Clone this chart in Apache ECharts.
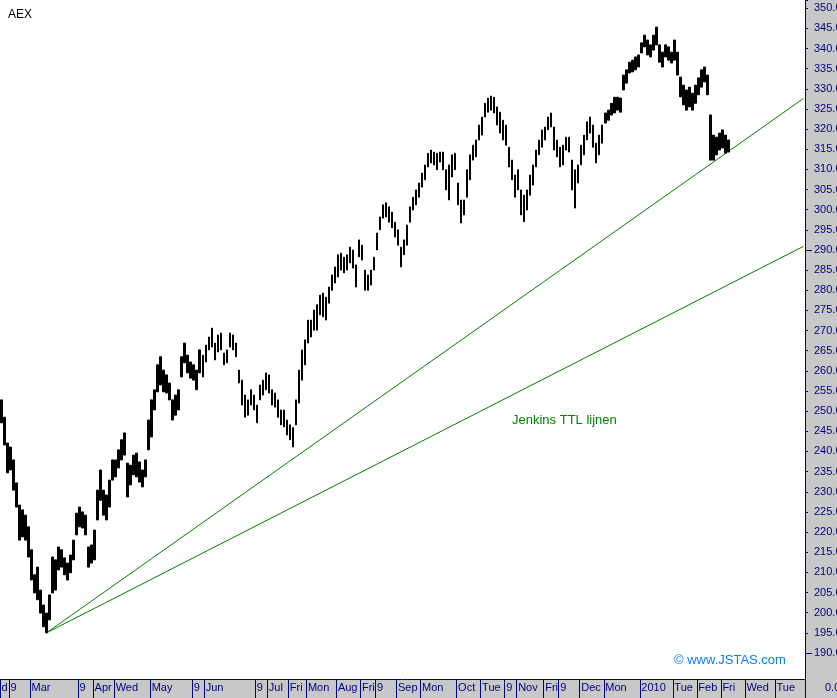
<!DOCTYPE html>
<html>
<head>
<meta charset="utf-8">
<title>AEX</title>
<script src="https://cdn.jsdelivr.net/npm/echarts@6/dist/echarts.min.js"></script>
<style>
html, body { margin: 0; padding: 0; background: #fff; }
#chart { width: 837px; height: 698px; }
</style>
</head>
<body>
<div id="chart"></div>
<script>
// koersbereik per slot (ca. 3 px per slot), gelezen uit de grafiek
const highs = [
  252.8, 248.5, 242.1, 241.1, 237.9, 232.2, 226.7, 225.5, 224.2, 221.3,
  215.6, 209.4, 211.3, 205.6, 201.9, 199.9, 204.4, 213.8, 213.1, 216.3,
  215.6, 213.6, 212.3, 214.3, 218.0, 224.7, 226.2, 225.0, 224.2, 216.3,
  216.8, 220.5, 230.4, 235.4, 230.4, 229.2, 232.9, 237.9, 237.9, 240.4,
  242.9, 244.6, 237.1, 236.6, 239.1, 239.6, 237.4, 235.4, 237.9, 247.8,
  252.8, 255.3, 261.5, 263.5, 260.2, 259.0, 257.0, 252.8, 254.0, 255.3,
  263.5, 266.9, 263.9, 262.2, 261.5, 260.2, 265.2, 263.9, 266.4, 268.4,
  270.6, 266.9, 268.9, 269.4, 264.4, 265.2, 269.4, 268.9, 266.9, 260.2,
  257.7, 254.0, 252.8, 255.3, 254.0, 251.5, 256.5, 257.7, 259.5, 259.0,
  255.3, 254.5, 252.8, 250.3, 250.3, 247.8, 246.6, 245.9, 252.8, 260.2,
  265.2, 267.7, 272.6, 272.6, 275.1, 276.4, 278.8, 279.3, 278.3, 280.8,
  283.8, 285.8, 288.8, 289.2, 288.2, 288.8, 290.7, 290.0, 286.3, 292.5,
  291.2, 285.0, 283.8, 285.0, 288.2, 294.2, 298.2, 301.2, 301.7, 300.7,
  299.4, 296.9, 295.0, 290.7, 292.5, 296.2, 300.7, 303.1, 304.9, 306.6,
  309.1, 311.1, 314.0, 314.8, 314.3, 314.0, 314.3, 314.3, 309.9, 311.1,
  313.6, 314.0, 306.6, 302.4, 302.4, 309.9, 313.6, 316.0, 317.3, 321.0,
  323.0, 326.4, 327.7, 328.2, 327.9, 325.5, 324.2, 322.2, 321.0, 315.5,
  312.3, 308.6, 309.9, 304.9, 303.6, 304.9, 308.6, 311.1, 314.8, 317.3,
  319.8, 320.5, 323.0, 324.0, 320.5, 317.3, 315.5, 316.0, 318.0, 318.0,
  312.3, 309.9, 311.1, 316.0, 318.5, 321.8, 323.0, 321.0, 316.5, 318.5,
  321.0, 324.0, 324.7, 326.4, 327.9, 327.9, 327.7, 333.4, 334.7, 336.6,
  337.1, 337.9, 338.4, 341.4, 343.3, 342.1, 340.9, 343.3, 345.3, 340.9,
  339.1, 340.9, 340.4, 339.1, 342.1, 339.1, 332.9, 330.9, 329.7, 330.4,
  328.9, 330.9, 332.7, 334.7, 335.4, 333.4, 323.5, 318.5, 318.0, 319.0,
  319.8, 318.5, 317.3
]
const lows = [
  247.1, 241.6, 234.7, 235.4, 230.4, 226.2, 218.0, 218.8, 218.0, 213.8,
  208.1, 204.9, 203.2, 199.9, 196.5, 195.0, 198.2, 204.9, 205.6, 210.6,
  211.3, 209.4, 208.1, 209.9, 213.1, 219.3, 221.3, 221.0, 219.3, 211.3,
  212.3, 213.1, 223.0, 227.9, 224.2, 223.0, 226.2, 232.9, 233.7, 235.9,
  237.9, 239.1, 228.7, 231.7, 234.2, 233.7, 232.4, 231.2, 233.7, 240.4,
  243.6, 250.3, 254.8, 256.5, 254.8, 254.5, 252.8, 247.8, 249.0, 250.3,
  258.5, 262.0, 259.5, 258.2, 257.7, 255.3, 259.5, 258.5, 262.2, 265.2,
  265.9, 262.7, 264.7, 265.2, 261.5, 262.0, 265.9, 265.2, 263.5, 257.0,
  251.5, 248.5, 249.0, 251.5, 250.3, 247.1, 252.8, 254.0, 255.3, 254.5,
  251.5, 251.0, 248.5, 246.6, 246.1, 244.1, 242.9, 241.1, 246.6, 252.0,
  257.7, 261.5, 266.9, 268.4, 270.1, 270.1, 273.9, 273.4, 272.6, 276.8,
  280.0, 281.8, 283.3, 285.0, 284.3, 285.0, 286.8, 285.5, 280.8, 288.3,
  287.5, 280.0, 280.0, 281.3, 285.0, 290.0, 295.0, 297.9, 298.2, 296.9,
  295.5, 293.2, 291.2, 285.8, 288.8, 291.2, 296.9, 299.9, 301.2, 303.1,
  305.6, 307.4, 310.6, 311.6, 311.1, 309.9, 311.8, 309.9, 304.9, 302.4,
  308.1, 309.9, 301.2, 296.7, 298.7, 303.1, 307.4, 312.3, 313.1, 317.3,
  318.5, 323.0, 324.2, 324.7, 324.0, 321.0, 319.0, 317.3, 316.0, 310.6,
  307.4, 303.1, 304.9, 298.7, 297.0, 299.9, 303.6, 306.1, 310.6, 313.6,
  315.5, 317.3, 319.8, 320.5, 314.8, 313.1, 310.6, 311.1, 314.8, 314.3,
  304.9, 300.4, 306.6, 311.1, 313.6, 317.3, 319.0, 315.5, 311.6, 313.6,
  316.5, 321.5, 322.2, 323.5, 324.0, 324.7, 324.2, 329.7, 331.4, 333.9,
  334.2, 334.7, 335.4, 338.9, 340.4, 338.4, 337.9, 339.6, 340.9, 336.6,
  335.4, 337.9, 337.1, 336.4, 337.1, 333.4, 328.0, 326.0, 324.7, 325.5,
  324.7, 326.4, 328.5, 330.4, 331.7, 328.5, 312.3, 312.3, 313.6, 314.8,
  315.3, 314.0, 314.3
]

// as-labels onderaan: slotnummer waar het label begint
const slotCount = 268
const tickSlots = [0, 3, 10, 26, 31, 38, 50, 64, 68, 85, 89, 96, 102, 112, 120, 125, 132,
  140, 152, 160, 168, 172, 181, 186, 193, 201, 213, 224, 232, 240, 248, 258]
const tickLabels = ['d', '9', 'Mar', '9', 'Apr', 'Wed', 'May', '9', 'Jun', '9', 'Jul', 'Fri', 'Mon',
  'Aug', 'Fri', '9', 'Sep', 'Mon', 'Oct', 'Tue', '9', 'Nov', 'Fri', '9', 'Dec', 'Mon', '2010',
  'Tue', 'Feb', 'Fri', 'Wed', 'Tue']

// Jenkins TTL lijnen: [slot, koers]
const ttlLine1 = [[15, 195.0], [267, 327.6]]
const ttlLine2 = [[15, 195.0], [267, 290.9]]

const slots = []
for (let i = 0; i < slotCount; i++) slots.push(String(i))
const labelAt = {}
tickSlots.forEach((s, i) => { labelAt[s] = tickLabels[i] })
const bars = highs.map((h, i) => [lows[i], h, lows[i], h])
const hasLabel = (idx) => labelAt[idx] !== undefined

const navy = '#000080'
const grey = '#c8c8c8'
const font = '"Liberation Sans", Arial, sans-serif'

let myEcharts = echarts.init(document.getElementById('chart'))
let option = {
  animation: false,
  backgroundColor: grey,
  textStyle: { fontFamily: font },
  title: {
    text: 'AEX',
    left: 3,
    top: 4,
    textStyle: { fontSize: 12, fontWeight: 'normal', color: '#000', fontFamily: font }
  },
  grid: [
    // koersgrafiek; loopt onder de datumbalk door tot 180
    { left: 0, right: 32, top: 0, bottom: 4.75, outerBoundsMode: 'none', containLabel: false },
    // datumbalk
    { left: 0, right: 32, top: 679, bottom: 0, outerBoundsMode: 'none', containLabel: false }
  ],
  xAxis: [
    {
      type: 'category',
      gridIndex: 0,
      data: slots,
      boundaryGap: true,
      offset: -14.25,
      axisLine: { lineStyle: { color: navy, width: 1 } },
      axisTick: { show: false },
      axisLabel: {
        interval: hasLabel,
        formatter: (v, idx) => labelAt[idx] || '',
        align: 'left',
        margin: 3,
        color: navy,
        fontSize: 11,
        fontFamily: font
      },
      splitLine: { show: false }
    },
    {
      type: 'category',
      gridIndex: 1,
      data: slots,
      boundaryGap: true,
      axisLine: { show: false },
      axisTick: { show: false },
      axisLabel: { show: false },
      splitLine: {
        show: true,
        interval: hasLabel,
        lineStyle: { color: navy, width: 1 }
      }
    }
  ],
  yAxis: [
    {
      type: 'value',
      gridIndex: 0,
      position: 'right',
      min: 180,
      max: 352.03,
      interval: 5,
      axisLine: { show: true, lineStyle: { color: navy } },
      axisTick: { show: true, length: 3, lineStyle: { color: navy } },
      axisLabel: {
        margin: 9,
        color: navy,
        fontSize: 11,
        fontFamily: font,
        formatter: (v) => (v < 190 || v > 350 ? '' : v.toFixed(1))
      },
      splitLine: { show: false }
    },
    { type: 'value', gridIndex: 1, show: false }
  ],
  graphic: [
    // wit tekenvlak
    { type: 'rect', shape: { x: 0, y: 0, width: 805, height: 679 }, style: { fill: '#fff' }, z: -10 },
    // grijze hoek rechtsonder
    { type: 'rect', shape: { x: 806, y: 666, width: 31, height: 32 }, style: { fill: grey }, z: 100 },
    { type: 'line', shape: { x1: 805.5, y1: 660, x2: 805.5, y2: 698 }, style: { stroke: navy, lineWidth: 1 }, z: 101 },
    // langere streepjes bij 290 en 190
    { type: 'line', shape: { x1: 805, y1: 250.5, x2: 812, y2: 250.5 }, style: { stroke: navy, lineWidth: 1 }, z: 101 },
    { type: 'line', shape: { x1: 805, y1: 653.5, x2: 812, y2: 653.5 }, style: { stroke: navy, lineWidth: 1 }, z: 101 },
    { type: 'text', style: { text: '0.0', x: 825, y: 682, fill: navy, font: '11px ' + font }, z: 101 },
    {
      type: 'text',
      style: { text: 'Jenkins TTL lijnen', x: 512, y: 414, fill: '#008000', font: '13px ' + font },
      z: 50
    },
    {
      type: 'text',
      style: { text: '\u00a9 www.JSTAS.com', x: 674, y: 654, fill: '#0a7cff', font: '13px ' + font },
      z: 50
    }
  ],
  series: [
    {
      name: 'AEX',
      type: 'candlestick',
      xAxisIndex: 0,
      yAxisIndex: 0,
      data: bars,
      barWidth: 2,
      itemStyle: {
        color: '#000',
        color0: '#000',
        borderColor: '#000',
        borderColor0: '#000',
        borderWidth: 1
      },
      z: 3
    },
    {
      name: 'ttl1',
      type: 'line',
      xAxisIndex: 0,
      yAxisIndex: 0,
      data: ttlLine1,
      symbol: 'none',
      lineStyle: { color: '#008000', width: 1 },
      z: 2
    },
    {
      name: 'ttl2',
      type: 'line',
      xAxisIndex: 0,
      yAxisIndex: 0,
      data: ttlLine2,
      symbol: 'none',
      lineStyle: { color: '#008000', width: 1 },
      z: 2
    }
  ]
}
myEcharts.setOption(option)
</script>
</body>
</html>
